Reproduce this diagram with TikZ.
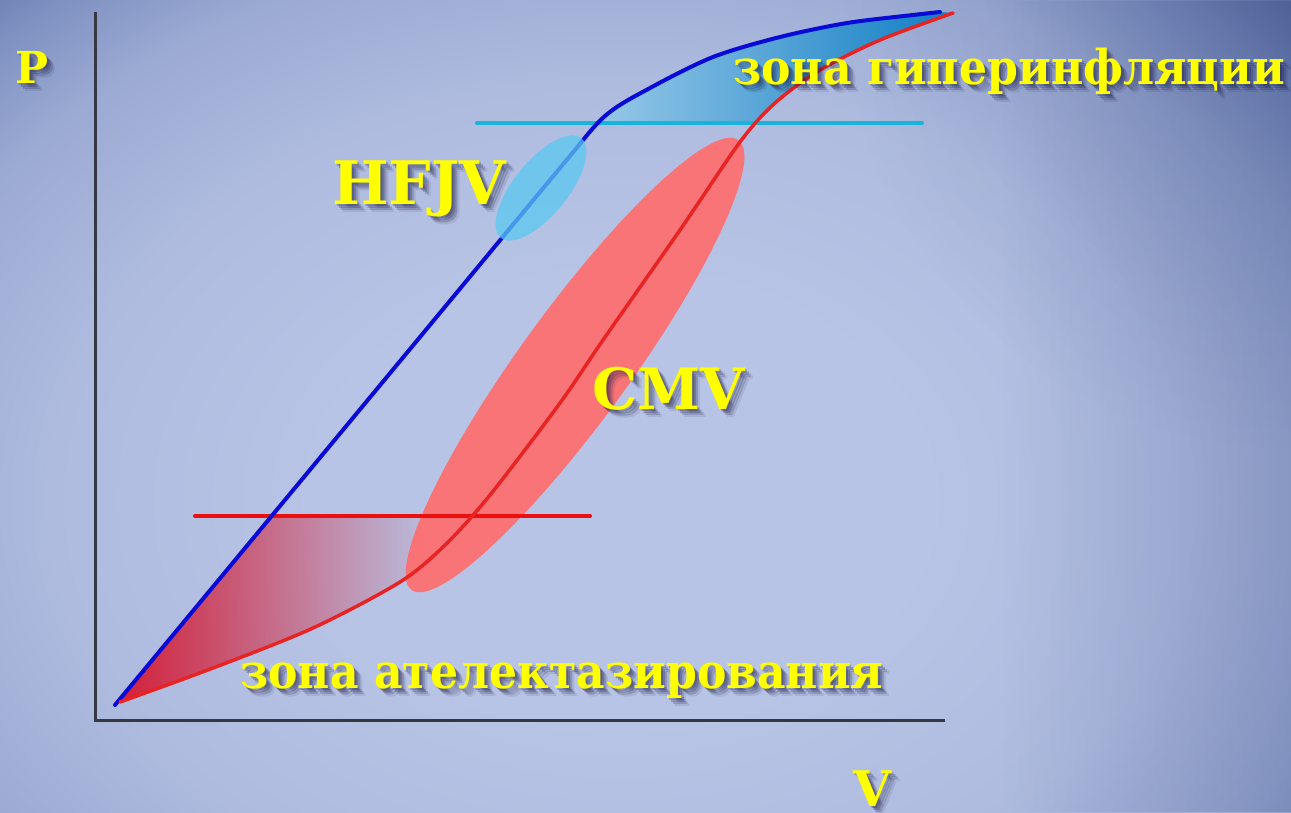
\documentclass[tikz,border=0pt]{standalone}
\usepackage{fontspec}
\setmainfont{DejaVu Serif}
\newfontfamily\zonefont[FakeStretch=0.92]{DejaVu Serif}
\usepackage{xcolor}
\usetikzlibrary{calc,fadings}

\definecolor{bglight}{RGB}{184,196,229}
\definecolor{bgmid}{RGB}{174,187,223}
\definecolor{bgmidd}{RGB}{155,170,211}
\definecolor{bgdark}{RGB}{128,146,194}
\definecolor{bgcorner}{RGB}{104,122,173}
\definecolor{bgedge}{RGB}{40,60,120}
\definecolor{axisgray}{RGB}{55,55,65}
\definecolor{bluecurve}{RGB}{10,10,215}
\definecolor{redcurve}{RGB}{232,35,35}
\definecolor{cyanline}{RGB}{25,180,220}
\definecolor{redline}{RGB}{235,15,15}
\definecolor{cmvfill}{RGB}{255,110,110}
\definecolor{hfjvfill}{RGB}{90,200,240}
\definecolor{hyperlight}{RGB}{150,200,232}
\definecolor{hypermid}{RGB}{70,160,212}
\definecolor{hyperdark}{RGB}{15,125,195}
\definecolor{atelred}{RGB}{215,20,45}
\definecolor{lblyellow}{RGB}{255,255,0}
\definecolor{shadowcol}{RGB}{30,30,70}

\pgfdeclareradialshading{bgshade}{\pgfpoint{0bp}{0bp}}{color(0bp)=(bglight); color(8bp)=(bglight); color(15bp)=(bgmid); color(20bp)=(bgmidd); color(23bp)=(bgdark); color(25bp)=(bgcorner); color(50bp)=(bgcorner)}
\tikzfading[name=atelfade, left color=transparent!5, right color=transparent!100]
\tikzfading[name=rightdark, left color=transparent!100, right color=transparent!0]
\tikzfading[name=cornerfade, inner color=transparent!0, outer color=transparent!100]

% yellow label with a soft drop shadow
\newcommand{\shadowlabel}[4]{%
    \foreach \d/\o in {2/0.25,4/0.25,6/0.2,8/0.1}
        \node[lbl, font=#3, text=shadowcol, text opacity=\o] (#1-sh\d) at ($(#2)+(\d,\d)$) {#4};
    \node[lbl, font=#3] (#1) at (#2) {#4};}

\begin{document}
\begin{tikzpicture}[x=1pt, y=-1pt,
    lbl/.style={anchor=base west, inner sep=0pt, text=lblyellow},
    axis/.style={line width=3pt, draw=axisgray},
    curve/.style={line width=4pt, line cap=round, line join=round},
    level/.style={line width=4pt, line cap=round}
]
    \useasboundingbox (0,0) rectangle (1291,812);
    \begin{scope}
        \clip (0,0) rectangle (1291,812);
        \shade[shading=bgshade] (-330,-200) rectangle (1570,1200);
        \fill[bgedge, path fading=rightdark, opacity=0.22] (1000,0) rectangle (1291,812);
        \fill[bgedge, path fading=cornerfade, opacity=0.2] (1291,0) circle [radius=450];
    \end{scope}

    % axes
    \draw[axis] (95,12) -- (95,720) -- (945,720);

    % zones between the two branches
    \begin{scope}
        \clip plot[smooth] coordinates {(115,705) (270,518) (420,337) (560,168) (605,116) (650,88) (713,57) (780,37) (847,23) (913,15) (940,12)}
          -- plot[smooth] coordinates {(953,13) (880,40) (820,70) (775,103) (740,142) (680,230) (603,340) (560,403) (490,495) (445,545) (400,582) (313,628) (213,668) (120,702)} -- cycle;
        \shade[left color=hyperlight, middle color=hypermid, right color=hyperdark] (598,5) rectangle (958,123);
        \fill[atelred, path fading=atelfade] (112,516) rectangle (440,712);
    \end{scope}

    \fill[cmvfill, opacity=0.92, rotate around={54:(575,365)}] (575,365) ellipse [x radius=278, y radius=55];

    \draw[level, draw=redline] (195,516) -- (590,516);
    \draw[level, draw=cyanline] (477,123) -- (922,123);

    \draw[curve, draw=bluecurve] plot[smooth] coordinates {(115,705) (270,518) (420,337) (560,168) (605,116) (650,88) (713,57) (780,37) (847,23) (913,15) (940,12)};
    \draw[curve, draw=redcurve, line width=3.5pt] plot[smooth] coordinates {(120,702) (213,668) (313,628) (400,582) (445,545) (490,495) (560,403) (603,340) (680,230) (740,142) (775,103) (820,70) (880,40) (953,13)};

    \fill[hfjvfill, opacity=0.75, rotate around={51:(541,188)}] (541,188) ellipse [x radius=64, y radius=27];

    \shadowlabel{pax}{15,83}{\fontsize{44}{46}\selectfont\bfseries}{P}
    \shadowlabel{vax}{853,806}{\fontsize{49}{51}\selectfont\bfseries}{V}
    \shadowlabel{hfjv}{332,204}{\fontsize{60}{62}\selectfont\bfseries}{HFJV}
    \shadowlabel{cmv}{592,409}{\fontsize{57}{60}\selectfont\bfseries}{CMV}
    \shadowlabel{hyper}{733,84}{\zonefont\fontsize{48}{50}\selectfont\bfseries}{зона гиперинфляции}
    \shadowlabel{atel}{240,688}{\zonefont\fontsize{48}{50}\selectfont\bfseries}{зона ателектазирования}
\end{tikzpicture}
\end{document}
